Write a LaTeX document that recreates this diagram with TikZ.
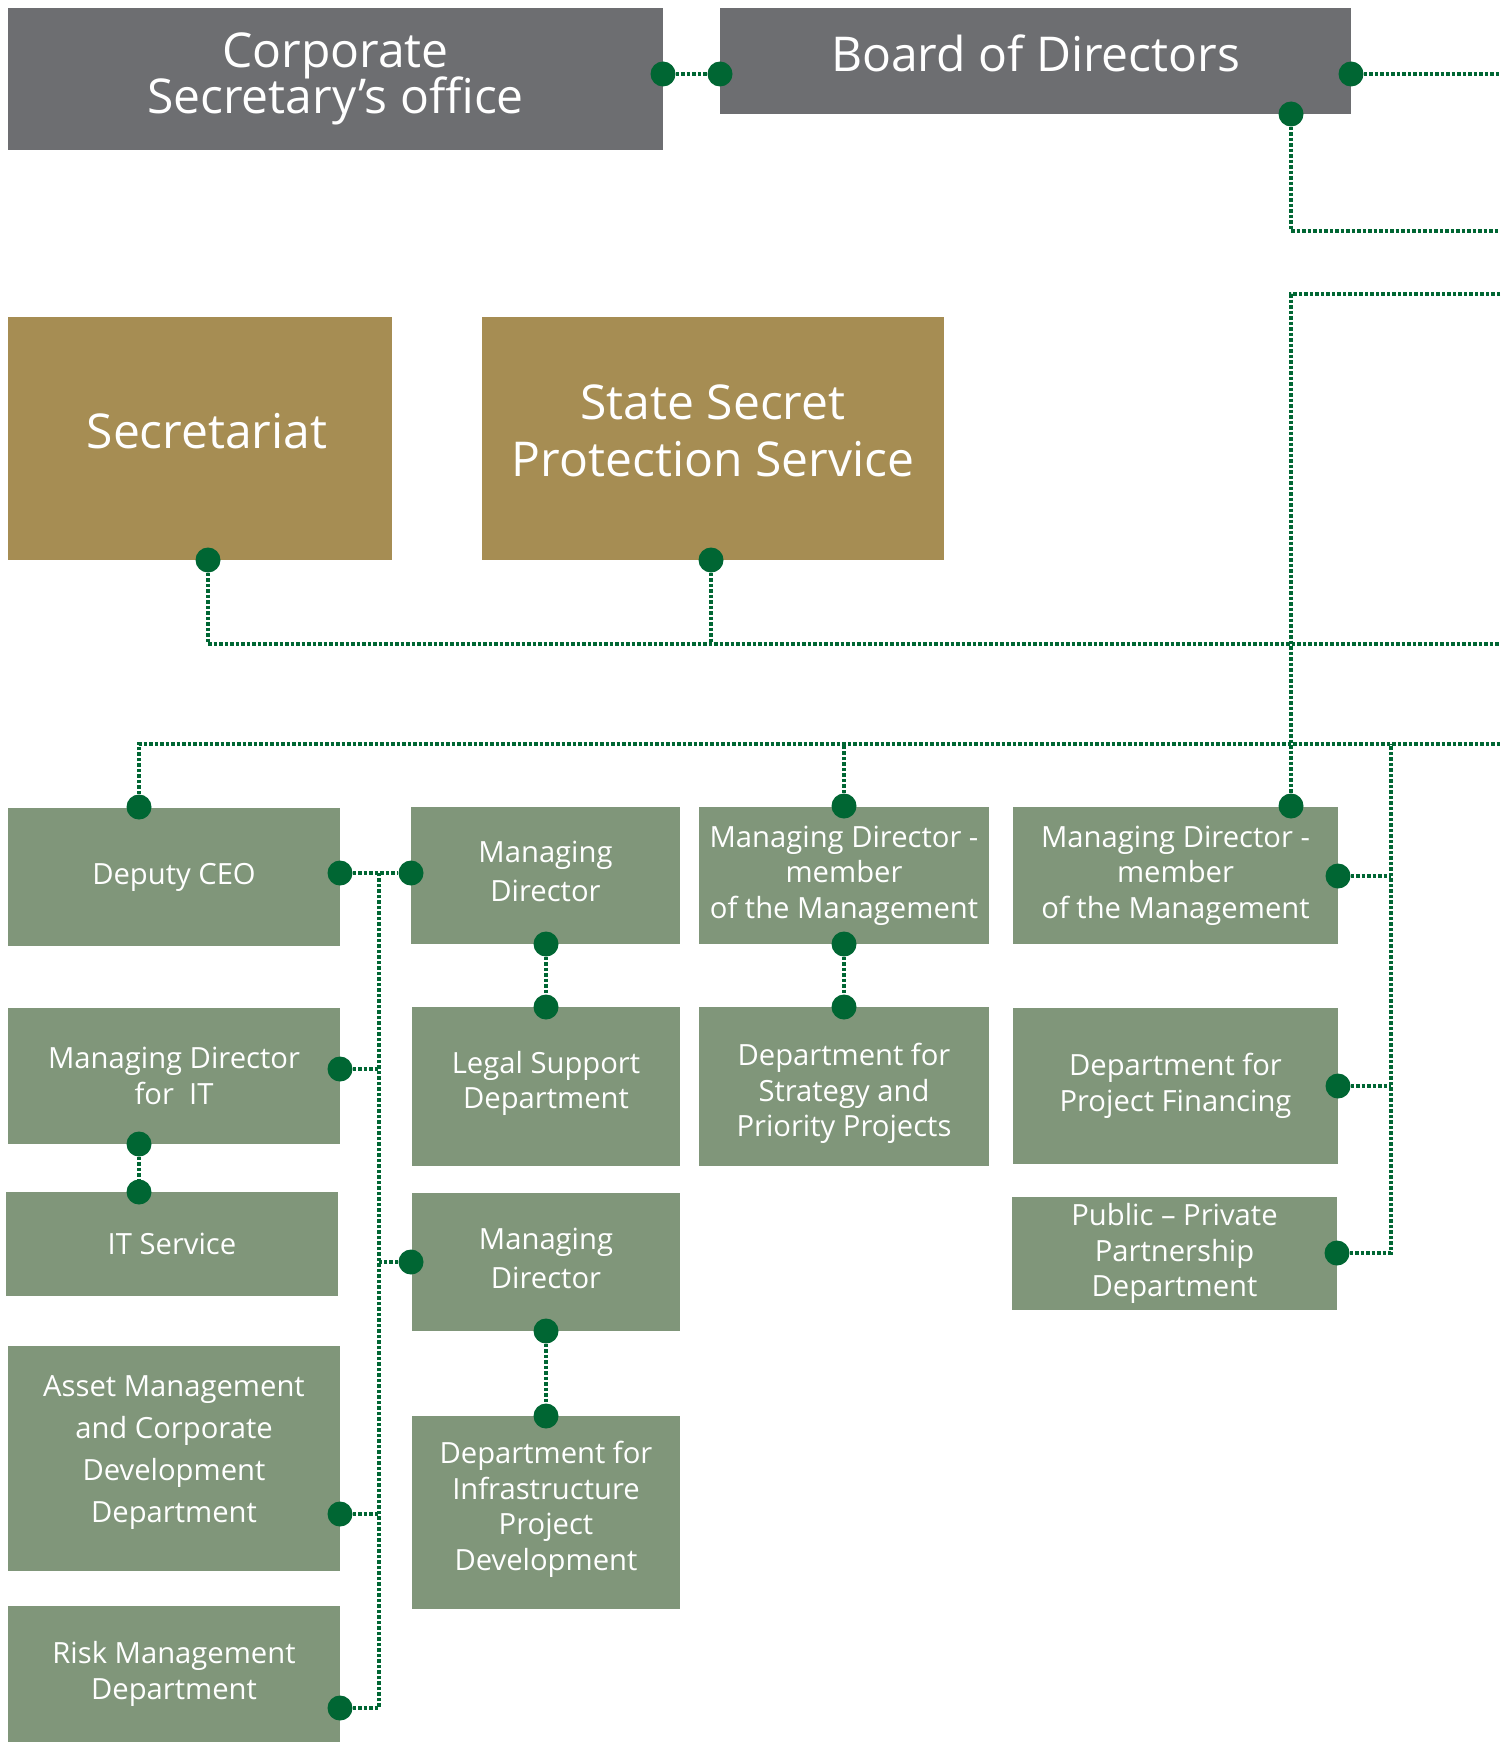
\documentclass[tikz,border=0pt]{standalone}
\usepackage{fontspec}
\setmainfont{Open Sans}
\usepackage{xcolor}
\usepackage{tikz}
\usetikzlibrary{positioning,calc}

\definecolor{boardgray}{HTML}{6D6E71}
\definecolor{staffgold}{HTML}{A68D53}
\definecolor{unitgreen}{HTML}{80967A}
\definecolor{linkgreen}{HTML}{006633}
\newcommand\tightlines{\lineskiplimit -30pt\relax}

\begin{document}
\begin{tikzpicture}[x=1pt,y=-1pt]
	\tikzset{
		box/.style={inner sep=4pt,align=center,text=white},
		top box/.style={box,fill=boardgray,font=\fontsize{48}{46.5}\selectfont\tightlines},
		staff box/.style={box,fill=staffgold,font=\fontsize{48}{57}\selectfont},
		unit box/.style={box,fill=unitgreen,font=\fontsize{29.2}{35.5}\selectfont},
		dot/.style={circle,fill=linkgreen,inner sep=0,minimum size=25pt},
		link/.style={draw=linkgreen,line width=3.2pt,dash pattern=on 3.5pt off 2pt}
	}
	\useasboundingbox (0,0) rectangle (1500,1742);
	
	% board level
	\node[top box,minimum width=655pt,minimum height=142pt](cso) at (335.5,79) {Corporate\\Secretary's office};
	\node[top box,minimum width=631pt,minimum height=106pt,text depth=16pt](board) at (1035.5,61) {Board of Directors};
	
	% staff units
	\node[staff box,minimum width=384pt,minimum height=243pt,text depth=16pt](secr) at (200,438.5) {\hspace*{14pt}Secretariat};
	\node[staff box,minimum width=462pt,minimum height=243pt](ssps) at (713,438.5) {State Secret\\Protection Service\rule[-16pt]{0pt}{0pt}};
	
	% management
	\node[unit box,minimum width=332pt,minimum height=138pt](dceo) at (174,877) {Deputy CEO};
	\node[unit box,minimum width=269pt,minimum height=137pt,font=\fontsize{29.2}{39}\selectfont](md1) at (545.5,875.5) {Managing\\Director\rule[-8pt]{0pt}{0pt}};
	\node[unit box,minimum width=290pt,minimum height=137pt](mdm1) at (844,875.5) {Managing Director -\\member\\of the Management};
	\node[unit box,minimum width=325pt,minimum height=137pt](mdm2) at (1175.5,875.5) {Managing Director -\\member\\of the Management};
	
	\node[unit box,minimum width=332pt,minimum height=136pt](mdit) at (174,1076) {Managing Director\\for~ IT};
	\node[unit box,minimum width=268pt,minimum height=159pt](legal) at (546,1086.5) {Legal Support\\Department\rule[-13pt]{0pt}{0pt}};
	\node[unit box,minimum width=290pt,minimum height=159pt](strat) at (844,1086.5) {\rule{0pt}{36pt}Department for\\Strategy and\\Priority Projects};
	\node[unit box,minimum width=325pt,minimum height=156pt](pfin) at (1175.5,1086) {Department for\\Project Financing};
	
	\node[unit box,minimum width=332pt,minimum height=104pt](its) at (172,1244) {IT Service};
	\node[unit box,minimum width=268pt,minimum height=138pt,font=\fontsize{29.2}{39}\selectfont](md2) at (546,1262) {Managing\\Director\rule[-8pt]{0pt}{0pt}};
	\node[unit box,minimum width=325pt,minimum height=113pt](ppp) at (1174.5,1253.5) {Public -- Private\\Partnership\\Department};
	
	\node[unit box,minimum width=332pt,minimum height=225pt,font=\fontsize{29.2}{42}\selectfont](asset) at (174,1458.5) {Asset Management\\and Corporate\\Development\\Department\rule[-18pt]{0pt}{0pt}};
	\node[unit box,minimum width=268pt,minimum height=193pt](infra) at (546,1512.5) {Department for\\Infrastructure\\Project\\Development\rule[-13pt]{0pt}{0pt}};
	\node[unit box,minimum width=332pt,minimum height=136pt](risk) at (174,1674) {Risk Management\\Department};
	
	% connection points
	\node[dot](cso-e) at (663,74) {};
	\node[dot](board-w) at (720,74) {};
	\node[dot](board-e) at (1351,74) {};
	\node[dot](board-s) at (1291,114) {};
	\node[dot](secr-s) at (208,560) {};
	\node[dot](ssps-s) at (711,560) {};
	\node[dot](dceo-n) at (139,807) {};
	\node[dot](dceo-e) at (340,873) {};
	\node[dot](md1-w) at (411,873) {};
	\node[dot](md1-s) at (546,944) {};
	\node[dot](legal-n) at (546,1007) {};
	\node[dot](mdm1-n) at (844,806) {};
	\node[dot](mdm1-s) at (844,944) {};
	\node[dot](strat-n) at (844,1007) {};
	\node[dot](mdm2-n) at (1291,806) {};
	\node[dot](mdm2-e) at (1338,876) {};
	\node[dot](pfin-e) at (1338,1086) {};
	\node[dot](ppp-e) at (1337,1253) {};
	\node[dot](mdit-e) at (340,1069) {};
	\node[dot](mdit-s) at (139,1144) {};
	\node[dot](its-n) at (139,1192) {};
	\node[dot](md2-w) at (411,1262) {};
	\node[dot](md2-s) at (546,1331) {};
	\node[dot](infra-n) at (546,1416) {};
	\node[dot](asset-e) at (340,1514) {};
	\node[dot](risk-e) at (340,1708) {};
	
	% free ends at the right border
	\coordinate (edge1) at (1500,74);
	\coordinate (edge2) at (1500,231);
	\coordinate (edge3) at (1500,294);
	\coordinate (edge4) at (1500,644);
	\coordinate (edge5) at (1500,744);
	\coordinate (rbus) at (1391,744);
	\coordinate (lbus) at (379,873);
	
	\path[link] (cso-e) -- (board-w);
	\path[link] (board-e) -- (edge1);
	\path[link] (board-s) |- (edge2);
	\path[link] (edge3) -| (mdm2-n);
	\path[link] (secr-s) |- (edge4);
	\path[link] (ssps-s) -- (ssps-s |- edge4);
	\path[link] (dceo-n) |- (edge5);
	\path[link] (mdm1-n) -- (mdm1-n |- edge5);
	\path[link] (ppp-e) -| (rbus);
	\path[link] (mdm2-e) -- (mdm2-e -| rbus);
	\path[link] (pfin-e) -- (pfin-e -| rbus);
	\path[link] (dceo-e) -- (md1-w);
	\path[link] (risk-e) -| (lbus);
	\path[link] (mdit-e) -- (mdit-e -| lbus);
	\path[link] (md2-w) -- (md2-w -| lbus);
	\path[link] (asset-e) -- (asset-e -| lbus);
	\path[link] (md1-s) -- (legal-n);
	\path[link] (mdm1-s) -- (strat-n);
	\path[link] (mdit-s) -- (its-n);
	\path[link] (md2-s) -- (infra-n);
\end{tikzpicture}
\end{document}
